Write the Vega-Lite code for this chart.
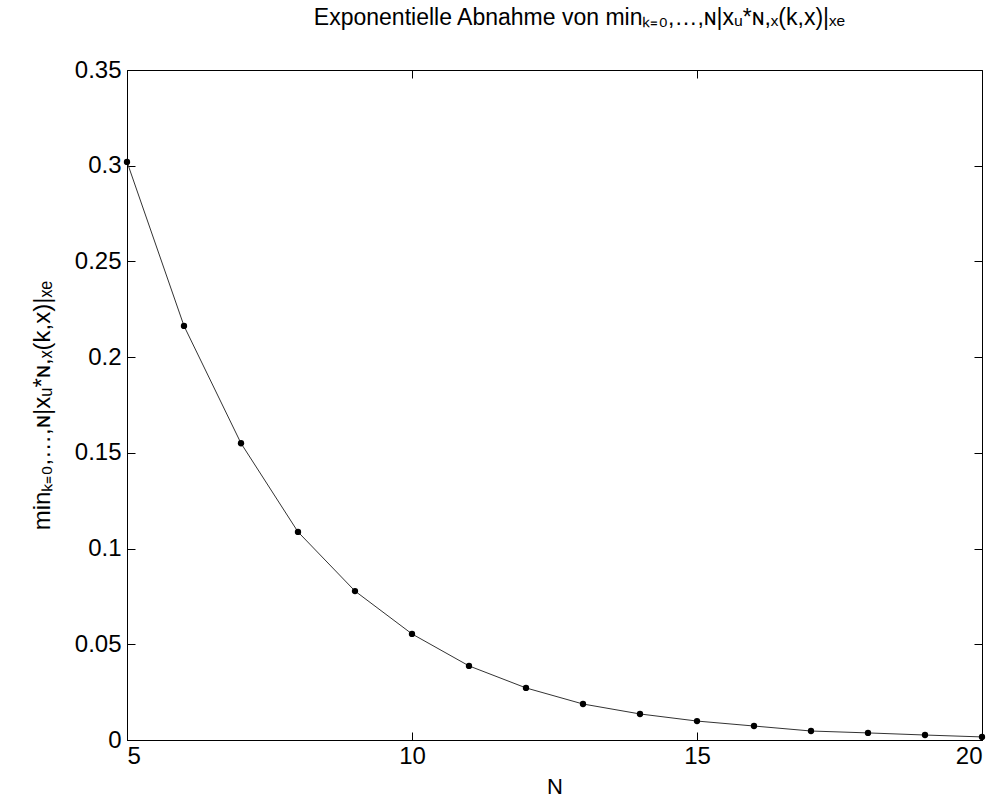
{
  "$schema": "https://vega.github.io/schema/vega-lite/v6.json",
  "width": 855,
  "height": 670,
  "autosize": "none",
  "padding": {"left": 127, "top": 70, "right": 20, "bottom": 68},
  "background": "white",
  "config": {
    "font": "Liberation Sans",
    "view": {"stroke": "black", "strokeWidth": 1},
    "axis": {"grid": false, "domainColor": "black", "tickColor": "black", "labelColor": "black", "titleColor": "black", "labelFontSize": 24, "titleFontSize": 22, "titleFontWeight": "normal", "labelFont": "Liberation Sans", "titleFont": "Liberation Sans", "tickSize": -8, "tickWidth": 1}
  },
  "title": {"text": "Exponentielle Abnahme von minₖ₌₀,…,ɴ|xᵤ*ɴ,ₓ(k,x)|ₓₑ", "fontSize": 23, "fontWeight": "normal", "font": "Liberation Sans", "color": "black", "offset": 28, "dx": 25},
  "data": {"values": [
    {"N": 5, "v": 0.302},
    {"N": 6, "v": 0.2163},
    {"N": 7, "v": 0.155},
    {"N": 8, "v": 0.1087},
    {"N": 9, "v": 0.0778},
    {"N": 10, "v": 0.0554},
    {"N": 11, "v": 0.0387},
    {"N": 12, "v": 0.0272},
    {"N": 13, "v": 0.0188},
    {"N": 14, "v": 0.0136},
    {"N": 15, "v": 0.0099},
    {"N": 16, "v": 0.0073},
    {"N": 17, "v": 0.0047},
    {"N": 18, "v": 0.0037},
    {"N": 19, "v": 0.0026},
    {"N": 20, "v": 0.0016}
  ]},
  "layer": [
    {
      "mark": {"type": "line", "color": "#333333", "strokeWidth": 1, "clip": false},
      "encoding": {
        "x": {"field": "N", "type": "quantitative", "scale": {"domain": [5, 20], "nice": false, "zero": false}, "axis": {"values": [5, 10, 15, 20], "title": "N", "labelPadding": 12, "titlePadding": 8}},
        "y": {"field": "v", "type": "quantitative", "scale": {"domain": [0, 0.35], "nice": false}, "axis": {"values": [0, 0.05, 0.1, 0.15, 0.2, 0.25, 0.3, 0.35], "format": "~g", "title": "minₖ₌₀,…,ɴ|xᵤ*ɴ,ₓ(k,x)|ₓₑ", "titleFontSize": 24, "labelPadding": 14, "titlePadding": 20}}
      }
    },
    {
      "mark": {"type": "point", "filled": true, "color": "black", "size": 40, "opacity": 1, "clip": false},
      "encoding": {
        "x": {"field": "N", "type": "quantitative", "axis": {"values": [5, 10, 15, 20], "labels": false, "title": null, "domain": false}},
        "y": {"field": "v", "type": "quantitative", "axis": {"values": [0, 0.05, 0.1, 0.15, 0.2, 0.25, 0.3, 0.35], "labels": false, "title": null, "domain": false}}
      }
    }
  ],
  "resolve": {"axis": {"x": "independent", "y": "independent"}}
}
